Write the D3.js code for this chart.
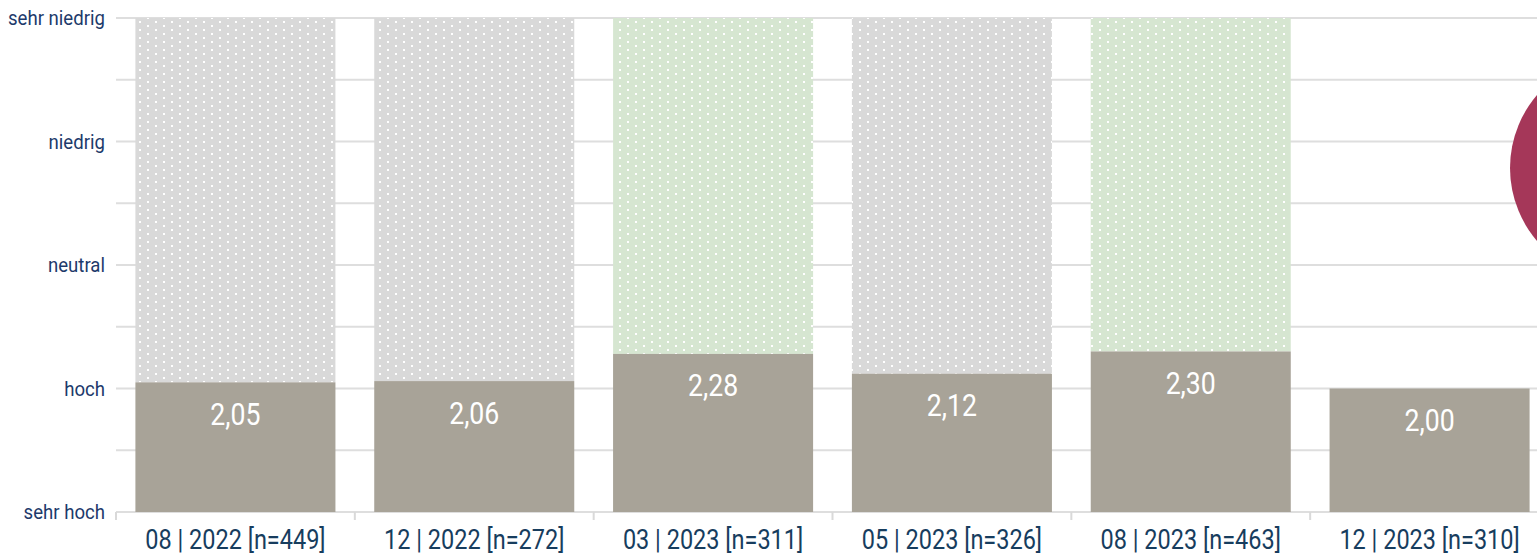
<!DOCTYPE html>
<html><head><meta charset="utf-8">
<script src="https://cdn.jsdelivr.net/npm/d3@7"></script>
<style>
html,body{margin:0;padding:0;background:#fff;overflow:hidden}
svg{display:block}
text{font-family:Roboto,"Noto Sans",sans-serif}
</style></head>
<body>
<svg id="chart" width="1537" height="558"></svg>
<script>
const categories = ["08 | 2022 [n=449]","12 | 2022 [n=272]","03 | 2023 [n=311]","05 | 2023 [n=326]","08 | 2023 [n=463]","12 | 2023 [n=310]"];
const values = [2.05, 2.06, 2.28, 2.12, 2.30, 2.00];
const backgroundKind = ["grey","grey","green","grey","green","none"];
const yTickValues = [1,2,3,4,5];
const yTickLabels = ["sehr hoch","hoch","neutral","niedrig","sehr niedrig"];
const gridValues = [1,1.5,2,2.5,3,3.5,4,4.5,5];

const svg = d3.select("#chart");
const margin = {left:116, top:18, bottom:46};
const H = 558;
const plotRight = 1549;

const x = d3.scaleBand().domain(categories).range([margin.left, plotRight]).paddingInner(0.1625).paddingOuter(0.08125);
const y = d3.scaleLinear().domain([1,5]).range([H - margin.bottom, margin.top]);

const defs = svg.append("defs");
function pattern(id, bg){
  const p = defs.append("pattern").attr("id", id).attr("patternUnits","userSpaceOnUse")
    .attr("width",16).attr("height",8);
  p.append("rect").attr("width",16).attr("height",8).attr("fill",bg);
  p.append("rect").attr("x",3).attr("y",1).attr("width",2).attr("height",2).attr("fill","#fff");
  p.append("rect").attr("x",11).attr("y",5).attr("width",2).attr("height",2).attr("fill","#fff");
}
pattern("pgrey","#d9d9d9");
pattern("pgreen","#d6e6d1");

// gridlines
svg.append("g").selectAll("line").data(gridValues).join("line")
  .attr("x1", margin.left).attr("x2", 1537)
  .attr("y1", d=>y(d)).attr("y2", d=>y(d))
  .attr("stroke","#dedede").attr("stroke-width",2);

// x axis ticks (band boundaries)
const boundaries = categories.map(c => x(c) - x.step()*x.paddingInner()/2);
boundaries[0] = margin.left;
svg.append("g").selectAll("line").data(boundaries).join("line")
  .attr("x1", d=>d).attr("x2", d=>d).attr("y1", y(1)).attr("y2", y(1)+8)
  .attr("stroke","#d9d9d9").attr("stroke-width",2);

// background bars
const bw = x.bandwidth();
svg.append("g").selectAll("rect").data(categories.map((c,i)=>({c,v:values[i],k:backgroundKind[i]})).filter(d=>d.k!=="none"))
  .join("rect")
  .attr("x", d=>x(d.c)).attr("width", bw)
  .attr("y", y(5)).attr("height", d=>y(d.v)-y(5))
  .attr("fill", d=> d.k==="green" ? "url(#pgreen)" : "url(#pgrey)");

// value bars
svg.append("g").selectAll("rect").data(categories.map((c,i)=>({c,v:values[i]})))
  .join("rect")
  .attr("x", d=>x(d.c)).attr("width", bw)
  .attr("y", d=>y(d.v)).attr("height", d=>y(1)-y(d.v))
  .attr("fill","#a8a398");

function condense(sel, f){
  sel.each(function(){
    const w = this.getComputedTextLength();
    d3.select(this).attr("textLength", w*f).attr("lengthAdjust","spacingAndGlyphs");
  });
}

// value labels
svg.append("g").selectAll("text").data(categories.map((c,i)=>({c,v:values[i]})))
  .join("text")
  .attr("x", d=>x(d.c)+bw/2).attr("y", d=>y(d.v)+32)
  .attr("text-anchor","middle").attr("dominant-baseline","central")
  .attr("fill","#fff").attr("font-size",31).attr("font-weight",400)
  .text(d=>d.v.toFixed(2).replace(".",","))
  .call(condense,0.86);

// y labels
svg.append("g").selectAll("text").data(yTickValues).join("text")
  .attr("x", 105).attr("y", d=>y(d))
  .attr("text-anchor","end").attr("dominant-baseline","central")
  .attr("fill","#1d3a6b").attr("font-size",20)
  .text((d,i)=>yTickLabels[i])
  .call(condense,0.93);

// x labels
svg.append("g").selectAll("text").data(categories).join("text")
  .attr("x", d=>x(d)+bw/2).attr("y", 549)
  .attr("text-anchor","middle")
  .attr("fill","#173d5e").attr("font-size",27)
  .text(d=>d)
  .call(condense,0.87);

// red badge circle (partially visible)
svg.append("circle").attr("cx",1622).attr("cy",168).attr("r",112).attr("fill","#a53759");
</script>
</body></html>
